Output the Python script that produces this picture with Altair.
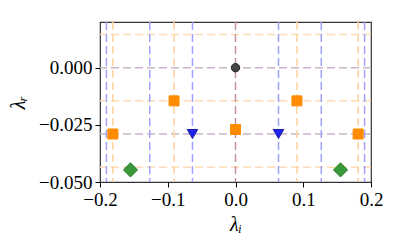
import altair as alt
import pandas as pd

# guide lines
vlines_blue = [-0.1905, -0.1266, -0.0635, 0.0635, 0.1266, 0.1905]
vlines_orange = [-0.181, -0.0907, 0.0907, 0.181]
vlines_zero = [0.0]
hlines_orange = [0.0145, -0.0145, -0.0435]
hlines_purple = [0.0, -0.029]

# markers
circle_x = [0.0]
circle_y = [0.0]
square_x = [-0.181, -0.0907, 0.0, 0.0907, 0.181]
square_y = [-0.029, -0.0145, -0.027, -0.0145, -0.029]
tri_x = [-0.0635, 0.0635]
tri_y = [-0.029, -0.029]
diam_x = [-0.155, 0.155]
diam_y = [-0.0447, -0.0447]

x_ticks = [-0.2, -0.1, 0.0, 0.1, 0.2]
y_ticks = [-0.05, -0.025, 0.0]

FONT = "Liberation Serif"

xs = alt.Scale(domain=[-0.2, 0.2], nice=False, zero=False)
ys = alt.Scale(domain=[-0.05, 0.02], nice=False, zero=False)

xaxis = alt.Axis(values=x_ticks, format=".1f", title="λᵢ", grid=False, domain=False,
                 tickColor="black", tickSize=5, labelFontSize=19, labelFont=FONT,
                 labelColor="black", titleFont=FONT, titleFontSize=20, labelFlush=False,
                 titleFontStyle="italic", titleFontWeight="normal", titleColor="black",
                 labelPadding=3, titlePadding=5)
yaxis = alt.Axis(values=y_ticks, format=".3f", title="λᵣ", grid=False, domain=False,
                 tickColor="black", tickSize=5, labelFontSize=19, labelFont=FONT,
                 labelColor="black", titleFont=FONT, titleFontSize=20, labelFlush=False,
                 titleFontStyle="italic", titleFontWeight="normal", titleColor="black",
                 labelPadding=3, titlePadding=10)

dash = [8, 4]


def vrules(vals, color):
    return alt.Chart(pd.DataFrame({"x": vals})).mark_rule(
        color=color, strokeWidth=1.5, strokeDash=dash, clip=True
    ).encode(x=alt.X("x:Q", scale=xs, axis=xaxis))


def hrules(vals, color):
    return alt.Chart(pd.DataFrame({"y": vals})).mark_rule(
        color=color, strokeWidth=1.5, strokeDash=dash, clip=True
    ).encode(y=alt.Y("y:Q", scale=ys, axis=yaxis))


def pts(xv, yv, shape, fill, stroke, size, opacity=1.0):
    return alt.Chart(pd.DataFrame({"x": xv, "y": yv})).mark_point(
        shape=shape, filled=True, fill=fill, stroke=stroke, strokeWidth=1,
        size=size, opacity=opacity
    ).encode(x=alt.X("x:Q", scale=xs, axis=xaxis), y=alt.Y("y:Q", scale=ys, axis=yaxis))


chart = alt.layer(
    hrules(hlines_orange, "#ffdcb4"),
    hrules(hlines_purple, "#c9b3c9"),
    vrules(vlines_orange, "#ffd2a0"),
    vrules(vlines_blue, "#a0a0ff"),
    vrules(vlines_zero, "#c4939f"),
    pts(circle_x, circle_y, "circle", "#444444", "#222222", 70),
    pts(square_x, square_y, "square", "#ff8c00", "#ff8c00", 100),
    pts(tri_x, tri_y, "triangle-down", "#2222ee", "#1a1aaa", 110),
    pts(diam_x, diam_y, "diamond", "#3a9a3a", "#2a7a2a", 200),
).properties(
    width=271, height=160,
    autosize=alt.AutoSizeParams(type="none"),
    padding={"left": 92, "top": 14, "right": 20, "bottom": 59},
).configure_view(stroke="#333333", strokeWidth=1.2)

chart.save("out.html", embed_options={"renderer": "svg", "actions": False})
